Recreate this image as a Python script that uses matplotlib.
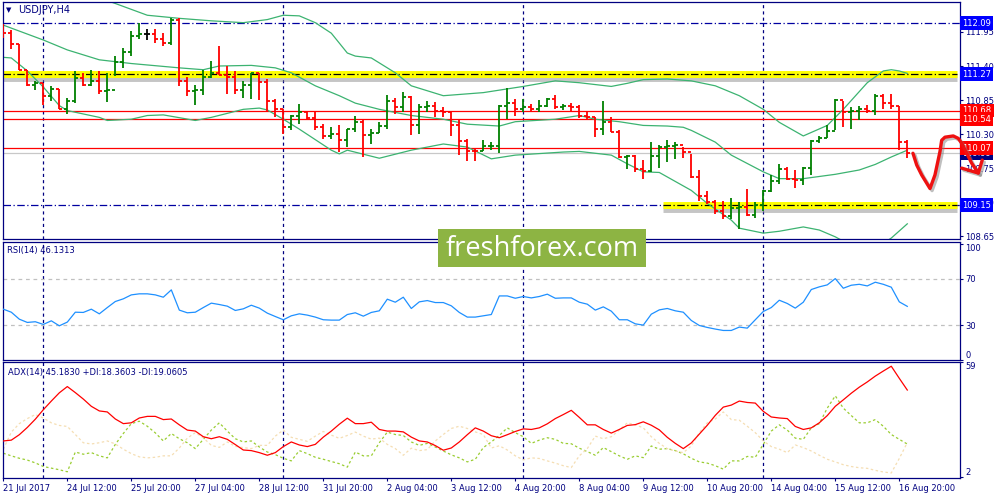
import numpy as np
import matplotlib.pyplot as plt
import matplotlib.patheffects as pe
from matplotlib.patches import Rectangle

# ---- time axis (bar index, 4H bars) ----
tick_idx = [0, 8, 16, 24, 32, 40, 48, 56, 64, 72, 80, 88, 96, 104, 112]
tick_labels = ["21 Jul 2017", "24 Jul 12:00", "25 Jul 20:00", "27 Jul 04:00", "28 Jul 12:00",
               "31 Jul 20:00", "2 Aug 04:00", "3 Aug 12:00", "4 Aug 20:00", "8 Aug 04:00",
               "9 Aug 12:00", "10 Aug 20:00", "14 Aug 04:00", "15 Aug 12:00", "16 Aug 20:00"]
week_idx = [5, 35, 65, 95]

# ---- USDJPY H4 bars ----
first_open = 111.98
highs = [112.08, 111.98, 111.76, 111.33, 111.16, 111.13, 111.07, 111.03, 110.88, 111.32,
         111.28, 111.33, 111.32, 111.28, 111.56, 111.69, 111.96, 112.09, 111.99, 111.99,
         111.93, 112.18, 112.17, 111.22, 111.10, 111.33, 111.48, 111.72, 111.40, 111.32,
         111.16, 111.28, 111.29, 111.19, 110.86, 110.70, 110.61, 110.78, 110.66, 110.66,
         110.46, 110.41, 110.45, 110.39, 110.59, 110.53, 110.39, 110.49, 110.93, 110.88,
         110.98, 110.91, 110.78, 110.83, 110.82, 110.74, 110.68, 110.52, 110.22, 110.07,
         110.20, 110.18, 110.77, 111.05, 110.87, 110.86, 110.78, 110.85, 110.89, 110.93,
         110.78, 110.80, 110.77, 110.65, 110.57, 110.84, 110.57, 110.37, 109.97, 109.97,
         109.88, 110.18, 110.12, 110.20, 110.17, 110.09, 109.98, 109.72, 109.38, 109.24,
         109.22, 109.27, 109.20, 109.42, 109.21, 109.40, 109.64, 109.81, 109.77, 109.72,
         109.77, 110.21, 110.27, 110.44, 110.86, 110.84, 110.73, 110.75, 110.77, 110.94,
         110.94, 110.94, 110.75, 110.21]
lows = [111.85, 111.67, 111.33, 111.07, 111.01, 110.77, 110.83, 110.70, 110.62, 110.81,
        111.07, 111.07, 110.95, 110.82, 111.24, 111.37, 111.56, 111.83, 111.82, 111.77,
        111.73, 111.74, 111.07, 110.91, 110.77, 110.93, 111.20, 111.25, 110.94, 110.94,
        110.89, 110.86, 110.85, 110.66, 110.57, 110.30, 110.36, 110.47, 110.53, 110.36,
        110.22, 110.22, 110.01, 110.09, 110.33, 109.93, 110.14, 110.32, 110.38, 110.62,
        110.66, 110.28, 110.30, 110.66, 110.57, 110.57, 110.27, 109.96, 109.86, 109.86,
        110.02, 110.04, 110.00, 110.54, 110.59, 110.65, 110.65, 110.66, 110.74, 110.70,
        110.69, 110.68, 110.56, 110.54, 110.25, 110.28, 110.33, 109.91, 109.74, 109.68,
        109.57, 109.68, 109.75, 109.85, 109.90, 109.91, 109.59, 109.22, 109.17, 109.01,
        108.93, 108.93, 108.76, 108.97, 108.94, 109.05, 109.36, 109.50, 109.56, 109.43,
        109.48, 109.64, 110.16, 110.23, 110.37, 110.41, 110.39, 110.53, 110.64, 110.61,
        110.70, 110.70, 110.05, 109.91]
closes = [111.93, 111.76, 111.34, 111.09, 111.12, 110.92, 111.03, 110.71, 110.83, 111.21,
          111.09, 111.15, 110.99, 111.01, 111.47, 111.62, 111.88, 111.91, 111.91, 111.83,
          111.77, 112.15, 111.15, 110.99, 111.01, 111.22, 111.28, 111.25, 111.23, 111.01,
          111.09, 111.28, 111.14, 110.84, 110.70, 110.42, 110.59, 110.66, 110.56, 110.42,
          110.27, 110.30, 110.20, 110.38, 110.49, 110.28, 110.31, 110.43, 110.84, 110.73,
          110.90, 110.45, 110.74, 110.76, 110.67, 110.66, 110.45, 110.19, 110.03, 110.02,
          110.10, 110.11, 110.75, 110.80, 110.70, 110.73, 110.71, 110.76, 110.86, 110.74,
          110.75, 110.73, 110.59, 110.57, 110.38, 110.50, 110.34, 109.93, 109.95, 109.73,
          109.70, 109.95, 110.09, 110.11, 110.13, 110.01, 109.61, 109.30, 109.21, 109.06,
          108.97, 109.11, 109.12, 108.99, 109.16, 109.38, 109.55, 109.73, 109.58, 109.56,
          109.75, 110.19, 110.23, 110.35, 110.85, 110.66, 110.67, 110.71, 110.67, 110.92,
          110.81, 110.75, 110.17, 109.99]

# ---- Bollinger bands (read at sample bars) ----
bb_up_idx = [12, 14, 18, 22, 26, 30, 33, 35, 37, 39, 41, 43, 44, 46, 49, 51, 55, 60, 65,
             69, 72, 76, 78, 80, 83, 86, 89, 92, 95, 97, 100, 103, 105, 108, 110, 111, 112, 113]
bb_up = [112.50, 112.41, 112.22, 112.17, 112.13, 112.10, 112.15, 112.22, 112.21, 112.10,
         111.93, 111.61, 111.56, 111.53, 111.29, 111.08, 110.92, 110.97, 111.07, 111.16,
         111.13, 111.07, 111.12, 111.18, 111.19, 111.16, 111.08, 110.92, 110.70, 110.49,
         110.27, 110.44, 110.70, 111.13, 111.32, 111.34, 111.32, 111.28]
bb_mid_idx = [0, 5, 8, 12, 16, 22, 25, 27, 31, 34, 36, 39, 42, 44, 47, 51, 55, 58, 62, 64,
              69, 72, 74, 77, 80, 83, 85, 86, 89, 91, 95, 97, 100, 104, 107, 109, 111, 113]
bb_mid = [112.06, 111.82, 111.66, 111.50, 111.44, 111.37, 111.34, 111.40, 111.41, 111.37,
          111.29, 111.08, 110.92, 110.80, 110.70, 110.60, 110.54, 110.46, 110.43, 110.50,
          110.54, 110.60, 110.54, 110.50, 110.44, 110.43, 110.41, 110.36, 110.17, 109.96,
          109.69, 109.58, 109.58, 109.65, 109.72, 109.81, 109.93, 110.04]
bb_lo_idx = [0, 1, 3, 5, 7, 8, 12, 13, 16, 18, 20, 24, 26, 30, 32, 33, 35, 37, 41, 42,
             43, 47, 51, 55, 58, 61, 64, 70, 72, 76, 78, 80, 82, 86, 88, 91, 92, 95, 97, 100,
             102, 104, 106, 109, 111, 113]
bb_lo = [111.54, 111.53, 111.32, 111.06, 110.76, 110.68, 110.57, 110.52, 110.54, 110.60,
         110.61, 110.52, 110.57, 110.70, 110.72, 110.69, 110.54, 110.38, 110.04, 109.98,
         110.04, 109.91, 110.04, 110.14, 110.09, 109.90, 109.96, 110.01, 110.02, 109.96,
         109.82, 109.69, 109.68, 109.39, 109.18, 108.91, 108.78, 108.70, 108.73, 108.80,
         108.75, 108.64, 108.50, 108.45, 108.62, 108.85]

# ---- RSI(14) ----
rsi = [43.7, 41.1, 35.1, 32.3, 32.9, 30.6, 33.7, 29.4, 32.6, 41.1,
       40.9, 43.7, 39.7, 45.1, 50.3, 52.6, 56.0, 56.9, 56.9, 56.0,
       54.0, 60.3, 42.9, 40.6, 41.1, 45.1, 48.9, 47.7, 46.3, 42.6,
       44.0, 47.1, 44.6, 40.3, 37.4, 34.6, 38.0, 39.7, 38.6, 36.9,
       34.6, 34.3, 34.3, 39.1, 40.6, 37.7, 40.9, 42.3, 52.3, 49.7,
       54.0, 44.3, 50.0, 51.1, 49.4, 49.4, 46.6, 40.9, 36.9, 36.9,
       38.0, 39.1, 55.1, 55.1, 53.1, 54.6, 53.4, 54.6, 56.6, 53.1,
       53.4, 53.4, 49.7, 48.0, 42.9, 45.7, 42.0, 34.6, 34.6, 31.1,
       30.0, 39.4, 43.1, 44.3, 42.3, 41.1, 34.0, 29.7, 28.0, 26.6,
       25.4, 25.4, 28.3, 27.4, 34.6, 41.7, 45.1, 51.4, 48.6, 44.6,
       49.7, 60.6, 62.9, 64.6, 70.0, 61.7, 64.3, 65.1, 63.7, 66.9,
       65.1, 62.6, 50.0, 46.13]

# ---- ADX(14), +DI, -DI ----
adx = [19.9, 20.3, 23.0, 26.6, 30.7, 35.4, 39.7, 43.8, 46.9, 43.9,
       40.7, 37.1, 34.8, 34.3, 30.8, 28.5, 28.9, 31.3, 32.1, 32.1,
       30.5, 30.8, 27.9, 25.3, 24.8, 22.0, 21.0, 22.0, 20.7, 18.1,
       15.4, 15.1, 14.1, 12.8, 14.1, 17.1, 19.4, 17.9, 17.1, 18.2,
       21.8, 24.8, 28.2, 31.2, 28.5, 28.5, 29.2, 25.6, 24.8, 24.8,
       24.4, 21.8, 19.9, 19.4, 17.6, 15.3, 16.4, 19.4, 23.0, 26.4,
       24.8, 22.5, 21.5, 23.0, 24.6, 25.9, 25.6, 26.4, 28.4, 31.0,
       33.0, 35.1, 31.6, 27.9, 27.9, 25.6, 23.8, 25.6, 27.6, 28.0,
       29.4, 27.7, 25.4, 21.7, 18.7, 16.1, 18.9, 23.3, 27.7, 32.6,
       36.7, 37.7, 39.7, 39.0, 38.7, 34.6, 31.8, 31.3, 31.0, 27.1,
       25.6, 26.4, 28.9, 32.5, 37.1, 40.3, 43.6, 46.6, 49.2, 52.1,
       54.6, 57.0, 51.0, 45.18]
plus_di = [13.8, 12.5, 11.3, 10.4, 9.0, 7.2, 6.4, 5.6, 4.6, 14.4,
           13.3, 14.1, 12.5, 11.5, 18.2, 23.6, 28.5, 29.7, 27.2, 23.9,
           19.9, 23.6, 21.0, 19.0, 16.1, 20.7, 25.3, 28.9, 24.8, 21.0,
           19.4, 19.9, 16.9, 14.4, 13.1, 11.3, 10.0, 15.1, 13.6, 11.8,
           10.8, 9.7, 8.6, 6.9, 14.4, 12.5, 12.5, 19.0, 24.3, 23.1,
           22.6, 19.4, 17.7, 18.7, 16.9, 14.9, 13.0, 11.5, 9.5, 10.8,
           16.6, 19.4, 22.6, 26.4, 24.0, 22.0, 18.7, 20.3, 21.5, 20.7,
           18.7, 18.5, 16.3, 14.6, 12.8, 16.6, 14.6, 12.5, 10.8, 12.5,
           11.6, 17.4, 15.8, 16.1, 15.1, 13.5, 11.3, 9.5, 8.9, 7.6,
           5.9, 10.0, 10.0, 12.2, 11.8, 18.2, 24.8, 27.9, 25.3, 21.3,
           20.7, 26.4, 28.5, 36.2, 42.3, 36.2, 32.5, 28.9, 28.9, 30.5,
           27.2, 23.1, 20.7, 18.36]
minus_di = [15.8, 24.3, 28.5, 31.0, 33.0, 31.3, 28.9, 27.6, 27.1, 23.1,
            19.0, 18.4, 19.0, 19.9, 18.4, 15.8, 13.6, 12.0, 11.5, 11.8,
            12.5, 12.5, 16.4, 21.3, 24.0, 21.5, 17.7, 16.7, 19.4, 17.2,
            16.6, 16.1, 17.7, 17.7, 22.3, 25.3, 21.7, 20.7, 19.7, 22.3,
            24.6, 22.8, 21.2, 22.6, 24.3, 22.3, 20.8, 21.3, 18.2, 16.1,
            12.8, 16.3, 15.1, 15.6, 19.9, 23.1, 26.1, 27.2, 26.1, 24.4,
            23.1, 16.4, 17.5, 15.4, 12.5, 10.5, 11.5, 11.2, 10.0, 8.9,
            7.6, 6.7, 12.5, 16.1, 22.3, 21.0, 22.0, 25.3, 28.9, 27.9,
            26.4, 22.0, 18.7, 16.1, 14.9, 14.1, 17.4, 24.0, 28.9, 30.8,
            34.3, 30.5, 30.2, 27.2, 24.0, 19.9, 17.1, 15.8, 14.1, 17.9,
            16.6, 14.9, 12.8, 10.8, 9.5, 8.1, 7.2, 6.6, 6.3, 5.3,
            4.5, 4.0, 11.2, 19.06]

# ---- price axis, levels, hand drawn forecast ----
price_ticks = [111.95, 111.40, 110.85, 110.30, 109.75, 109.20, 108.65]
red_levels = [110.68, 110.54, 110.07]
bid = 109.99
upper_level = 111.27
lower_level = 109.15
top_level = 112.09
level_boxes = [(112.09, "blue"), (111.27, "blue"), (109.99, "#000080"),
               (110.68, "red"), (110.54, "red"), (110.07, "red"), (109.15, "blue")]
lower_zone_start = 82.5
arrow_x = [113.71, 114.18, 114.80, 115.84, 116.46, 117.09, 117.30, 117.71, 118.75, 119.38,
           119.80, 120.43, 121.05, 121.88]
arrow_y = [109.99, 109.80, 109.64, 109.42, 109.64, 110.02, 110.20, 110.25, 110.27, 110.23,
           110.15, 109.99, 109.83, 109.67]
head_x = [119.80, 121.88, 122.37]
head_y = [109.75, 109.67, 109.88]

NAVY = "#000080"
UP, DN = "#008000", "#ff0000"
BB = "#3cb371"

fig = plt.figure(figsize=(10, 5), dpi=100)
fig.patch.set_facecolor("white")
L, W = 0.003, 0.957
ax = fig.add_axes([L, 0.522, W, 0.474])
ax_rsi = fig.add_axes([L, 0.28, W, 0.237])
ax_adx = fig.add_axes([L, 0.044, W, 0.232])
xlim = (-0.04, 119.59)

for a in (ax, ax_rsi, ax_adx):
    a.set_xlim(*xlim)
    for s in a.spines.values():
        s.set_color(NAVY)
        s.set_linewidth(0.9)
    a.yaxis.tick_right()
    a.tick_params(axis="y", direction="out", length=2.5, width=0.8, color=NAVY,
                  labelsize=6, labelcolor=NAVY, pad=1.5)
    a.set_xticks([])
    for w in week_idx:
        a.axvline(w, color=NAVY, lw=0.9, dashes=(2.5, 2.5), zorder=1)

# main price panel
x = np.arange(len(closes))
c = np.array(closes)
o = np.r_[first_open, c[:-1]]
cols = np.where(c > o, UP, np.where(c < o, DN, "black"))
ax.set_ylim(108.605, 112.434)

ax.axhline(top_level, color="#0000a0", lw=0.9, dashes=(6, 2, 1, 2), zorder=1)
ax.axhline(lower_level, color="#0000a0", lw=0.9, dashes=(6, 2, 1, 2), zorder=1)
shadow = [pe.SimpleLineShadow(offset=(0, -2.5), shadow_color="gray", alpha=0.45), pe.Normal()]
ax.plot([xlim[0], 119.2], [upper_level] * 2, color="yellow", lw=5, solid_capstyle="butt",
        path_effects=shadow, zorder=1.2)
ax.plot([lower_zone_start, 119.2], [lower_level] * 2, color="yellow", lw=5,
        solid_capstyle="butt", path_effects=shadow, zorder=1.2)
ax.plot([xlim[0], 119.2], [upper_level] * 2, color="black", lw=0.9, dashes=(6, 2, 1, 2), zorder=1.3)
ax.plot([lower_zone_start, 119.2], [lower_level] * 2, color="black", lw=0.9,
        dashes=(6, 2, 1, 2), zorder=1.3)
for lv in red_levels:
    ax.axhline(lv, color="red", lw=0.9, zorder=1.4)
ax.axhline(bid, color="#c8c8c8", lw=0.9, zorder=1.1)

ax.plot(bb_up_idx, bb_up, color=BB, lw=0.9, zorder=2)
ax.plot(bb_mid_idx, bb_mid, color=BB, lw=0.9, zorder=2)
ax.plot(bb_lo_idx, bb_lo, color=BB, lw=0.9, zorder=2)

ax.vlines(x, lows, highs, colors=cols, lw=1.3, zorder=3)
ax.hlines(o, x - 0.36, x, colors=cols, lw=1.3, zorder=3)
ax.hlines(c, x, x + 0.36, colors=cols, lw=1.3, zorder=3)

ax.set_yticks(price_ticks)
ax.set_yticklabels([f"{p:.2f}" for p in price_ticks])
for lv, col in level_boxes:
    ax.annotate(f"{lv:.2f}", xy=(1, lv), xycoords=("axes fraction", "data"),
                xytext=(1.5, 0), textcoords="offset points", va="center", ha="left",
                fontsize=6, color="white", annotation_clip=False, zorder=5,
                bbox=dict(boxstyle="square,pad=0.28", fc=col, ec="none"))

arrow_fx = [pe.SimpleLineShadow(offset=(1.5, -1.5), shadow_color="gray", alpha=0.5), pe.Normal()]
ax.plot(arrow_x, arrow_y, color="#ee1111", lw=2.4, clip_on=False, zorder=8,
        solid_joinstyle="round", solid_capstyle="round", path_effects=arrow_fx)
ax.plot(head_x, head_y, color="#ee1111", lw=2.4, clip_on=False, zorder=8,
        solid_joinstyle="round", solid_capstyle="round", path_effects=arrow_fx)

# RSI panel
ax_rsi.set_ylim(0.2, 101.9)
ax_rsi.axhline(70, color="#c0c0c0", lw=0.9, dashes=(3, 3))
ax_rsi.axhline(30, color="#c0c0c0", lw=0.9, dashes=(3, 3))
ax_rsi.plot(x, rsi, color="#1e90ff", lw=0.9, zorder=3)
ax_rsi.set_yticks([100, 70, 30, 0])
ax_rsi.set_yticklabels(["100", "70", "30", "0"])
lab = ax_rsi.get_yticklabels()
lab[0].set_va("top")
lab[3].set_va("bottom")

# ADX panel
ax_adx.set_ylim(1.5, 59.1)
ax_adx.plot(x, plus_di, color="#9acd32", lw=0.9, dashes=(2, 2), zorder=2)
ax_adx.plot(x, minus_di, color="#f5deb3", lw=0.9, dashes=(2, 2), zorder=2)
ax_adx.plot(x, adx, color="red", lw=0.9, zorder=3)
ax_adx.set_yticks([59, 2])
ax_adx.set_yticklabels(["59", "2"])
lab = ax_adx.get_yticklabels()
lab[0].set_va("top")
lab[1].set_va("bottom")
ax_adx.set_xticks(tick_idx)
ax_adx.set_xticklabels(tick_labels)
ax_adx.tick_params(axis="x", direction="out", length=2.5, width=0.8, color=NAVY,
                   labelsize=6, labelcolor=NAVY, pad=2)
for t in ax_adx.get_xticklabels():
    t.set_ha("left")

# captions
fig.text(0.009, 0.98, "\u25bc", fontsize=5, color=NAVY, va="center", ha="center")
fig.text(0.018, 0.98, "USDJPY,H4", fontsize=7, color=NAVY, va="center")
fig.text(0.007, 1 - 251 / 500, "RSI(14) 46.1313", fontsize=6, color=NAVY, va="center")
fig.text(0.008, 1 - 372 / 500, "ADX(14) 45.1830 +DI:18.3603 -DI:19.0605", fontsize=6,
         color=NAVY, va="center")

# watermark
fig.add_artist(Rectangle((0.438, 0.466), 0.208, 0.076, transform=fig.transFigure,
                         facecolor="#8db443", edgecolor="none", zorder=10))
fig.text(0.542, 0.502, "freshforex.com", fontsize=19.5, family=["Open Sans", "DejaVu Sans"],
         color="white", ha="center", va="center", zorder=11)

fig.savefig("out.png", dpi=100)
